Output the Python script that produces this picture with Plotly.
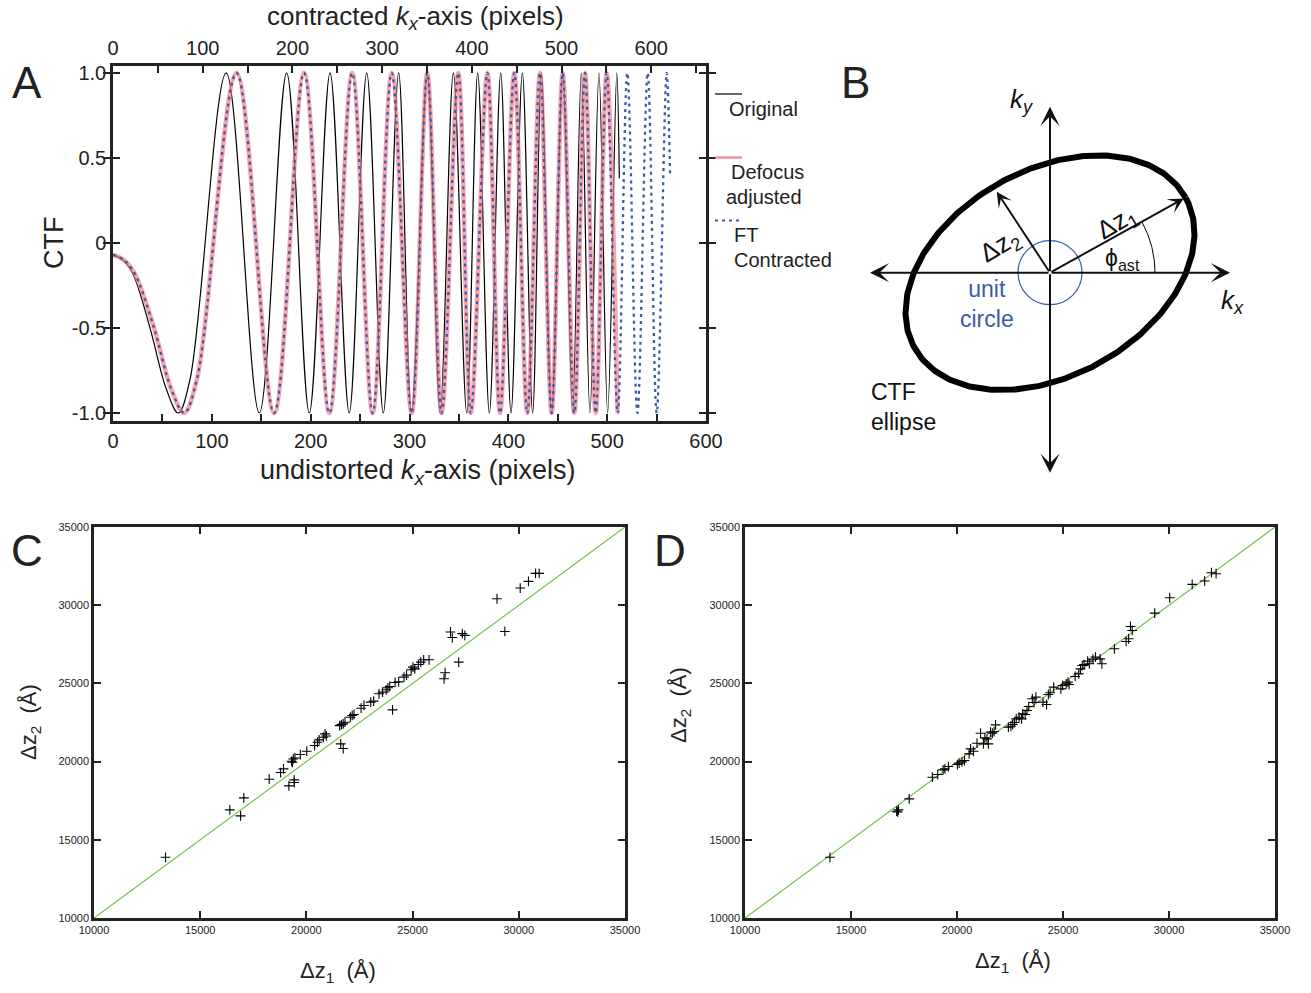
import numpy as np
import plotly.graph_objects as go

W, H = 1311, 993
FONT = "Liberation Sans, Arial, Helvetica, sans-serif"

# ---------------- Panel A data (extrema) ----------------
orig_x = [0, 10, 20, 37, 54, 66, 78, 114.5, 148, 175.7, 198.6, 219.6, 239, 256.7, 273.5, 289, 302,
          318, 331, 344.4, 357.9, 369, 380.8, 392.3, 402.7, 414.2, 424.6, 433.4, 443.8,
          455, 465, 473.8, 482.6, 491.7, 500.5, 509.7, 512.3]
orig_y = [-0.07, -0.10, -0.18, -0.49, -0.86, -1.0, -0.8, 1, -1, 1, -1, 1, -1, 1, -1, 1, -1,
          1, -1, 1, -1, 1, -1, 1, -1, 1, -1, 1, -1,
          1, -1, 1, -1, 1, -1, 1, 0.38]

adj_x = [0, 11, 22, 41, 59, 72, 85, 125, 163, 193.3, 218.9, 242, 262.7, 282, 302.2, 318, 332.5,
         349.4, 362, 378.8, 391.6, 406, 419.2, 432, 443.8, 455, 466.8, 477.6, 488.4,
         499.5, 510.6]
adj_y = [-0.07, -0.10, -0.18, -0.49, -0.86, -1.0, -0.8, 1, -1, 1, -1, 1, -1, 1, -1, 1, -1,
         1, -1, 1, -1, 1, -1, 1, -1, 1, -1, 1, -1,
         1, -1]

ft_x = adj_x + [520.4, 530.6, 541, 550.1, 560.2, 563.6]
ft_y = adj_y + [1, -1, 1, -1, 1, 0.41]

# ---------------- Panel C / D data ----------------
c_dz1 = [13367, 16397, 16902, 17054, 18249, 18788, 18923, 19175, 19428, 19428,
         19300, 19380, 19460, 19340, 19714, 20017, 20387, 20520, 20600, 20800,
         20880, 20940, 21566, 21650, 21734, 21818, 21616, 21734, 22070, 22155,
         22240, 22575, 22710, 23030, 23165, 23418, 23587, 23755, 23840, 23923,
         24057, 24175, 24343, 24596, 24714, 24933, 25017, 25101, 25270, 25387,
         25522, 25774, 26481, 26532, 26784, 26868, 27340, 27458, 27172, 28973,
         29343, 30067, 30455, 30790, 30959]
c_dz2 = [13882, 16911, 16527, 17679, 18874, 19300, 19535, 18447, 18831, 18660,
         20020, 20170, 20230, 19960, 20452, 20665, 21028, 21240, 21390, 21560,
         21770, 21640, 22300, 22370, 22410, 22520, 21134, 20836, 22840, 22950,
         23010, 23415, 23590, 23800, 23865, 24334, 24440, 24590, 24720, 24803,
         23310, 25060, 25100, 25400, 25530, 25870, 26040, 25930, 26210, 26360,
         26510, 26510, 25295, 25680, 28290, 27930, 28180, 28070, 26360, 30413,
         28323, 31096, 31523, 32034, 32034]

d_dz1 = [14007, 17155, 17240, 17200, 17744, 18838, 19091, 19343, 19430, 19596,
         20017, 20100, 20235, 20353, 20572, 20640, 20775, 20943, 21111, 21246,
         21313, 21414, 21481, 21582, 21666, 21750, 21818, 22424, 22542, 22626,
         22710, 22794, 22929, 23047, 23098, 23216, 23300, 23384, 23553, 23637,
         23720, 24057, 24225, 24309, 24393, 24562, 24900, 24984, 25152, 25236,
         25287, 25573, 25741, 25825, 25909, 25993, 26163, 26245, 26416, 26534,
         26750, 26835, 27424, 27980, 28097, 28182, 28266, 29326, 30033, 31094,
         31683, 32003, 32222]
d_dz2 = [13882, 16830, 16911, 16780, 17615, 19001, 19172, 19471, 19535, 19684,
         19812, 19900, 19980, 20068, 20494, 20814, 20660, 21177, 21817, 21134,
         21518, 21450, 21134, 21882, 21820, 21920, 22348, 22200, 22260, 22370,
         22500, 22734, 22840, 22734, 23050, 23010, 23270, 23521, 24014, 23780,
         24120, 23801, 23650, 24290, 24400, 24760, 24653, 24870, 24970, 25080,
         24930, 25443, 25610, 25930, 26140, 26200, 26425, 26255, 26550, 26680,
         26570, 26255, 27213, 27683, 27853, 28640, 28385, 29495, 30477, 31330,
         31543, 32077, 32013]

diag = [10000, 35000]

# ---------------- Panel B diagram parameters (pixels) ----------------
ell_a, ell_b, ell_ang = 155, 103, 29.0
arc_r = 105
unit_r = 32
dz1_len, dz1_ang = 153, 29.0
dz2_len, dz2_ang = 97, 123.3

fig = go.Figure()

# ---- Panel A traces ----
fig.add_trace(go.Scatter(x=orig_x, y=orig_y, mode="lines", line=dict(color="black", width=1.2, shape="spline"),
                         showlegend=False, hoverinfo="skip"))
fig.add_trace(go.Scatter(x=adj_x, y=adj_y, mode="lines",
                         line=dict(color="rgba(246,125,135,0.7)", width=4.5, shape="spline"),
                         showlegend=False, hoverinfo="skip"))
fig.add_trace(go.Scatter(x=ft_x, y=ft_y, mode="lines",
                         line=dict(color="#3a5aad", width=2.3, shape="spline", dash="3px,4px"),
                         showlegend=False, hoverinfo="skip"))
fig.add_trace(go.Scatter(x=[None], y=[None], xaxis="x2", yaxis="y", showlegend=False, hoverinfo="skip"))

# ---- Panel B traces ----
t = np.linspace(0, 2 * np.pi, 361)
th = np.deg2rad(ell_ang)
ex = ell_a * np.cos(t) * np.cos(th) - ell_b * np.sin(t) * np.sin(th)
ey = ell_a * np.cos(t) * np.sin(th) + ell_b * np.sin(t) * np.cos(th)
fig.add_trace(go.Scatter(x=ex, y=ey, mode="lines", line=dict(color="black", width=6),
                         xaxis="x3", yaxis="y3", showlegend=False, hoverinfo="skip"))
ta = np.linspace(0, np.deg2rad(dz1_ang), 60)
fig.add_trace(go.Scatter(x=arc_r * np.cos(ta), y=arc_r * np.sin(ta), mode="lines",
                         line=dict(color="black", width=1),
                         xaxis="x3", yaxis="y3", showlegend=False, hoverinfo="skip"))

# ---- Panel C / D traces ----
for xs, ys, xa, ya in [(c_dz1, c_dz2, "x4", "y4"), (d_dz1, d_dz2, "x5", "y5")]:
    fig.add_trace(go.Scatter(x=diag, y=diag, mode="lines", line=dict(color="#76c04e", width=1.2),
                             xaxis=xa, yaxis=ya, showlegend=False, hoverinfo="skip"))
    fig.add_trace(go.Scatter(x=xs, y=ys, mode="markers",
                             marker=dict(symbol="cross-thin", size=7, line=dict(color="black", width=1.1)),
                             xaxis=xa, yaxis=ya, showlegend=False, hoverinfo="skip"))


def px(xp):
    return xp / W


def py(yp):
    return 1 - yp / H


axcol = "#222222"
common_A = dict(showgrid=False, zeroline=False, showline=True, linecolor=axcol, linewidth=2.5,
                ticks="inside", ticklen=7, tickwidth=2, tickcolor=axcol, automargin=False,
                tickfont=dict(family=FONT, size=20, color="#222"))

layout = dict(
    width=W, height=H, margin=dict(l=0, r=0, t=0, b=0, pad=0, autoexpand=False),
    paper_bgcolor="white", plot_bgcolor="white",
    font=dict(family=FONT, color="#222"),
    xaxis=dict(domain=[px(113), px(706)], range=[0, 600], dtick=100, anchor="y",
               minor=dict(dtick=50, ticks="inside", ticklen=7, tickwidth=2, tickcolor=axcol),
               **common_A),
    xaxis2=dict(domain=[px(113), px(706)], range=[0, 661], dtick=100, overlaying="x", side="top", anchor="y",
                minor=dict(dtick=50, ticks="inside", ticklen=7, tickwidth=2, tickcolor=axcol),
                **common_A),
    yaxis=dict(domain=[py(421), py(66)], range=[-1.047, 1.041], anchor="x",
               tickvals=[-1, -0.5, 0, 0.5, 1], ticktext=["-1.0", "-0.5", "0", "0.5", "1.0"],
               mirror="allticks", **common_A),
    xaxis3=dict(domain=[px(840), px(1290)], range=[-210, 240], visible=False, anchor="y3", automargin=False),
    yaxis3=dict(domain=[py(490), py(60)], range=[-217.3, 212.7], visible=False, anchor="x3", automargin=False),
)

common_CD = dict(showgrid=False, zeroline=False, showline=True, linecolor=axcol, linewidth=2.5,
                 ticks="inside", ticklen=7, tickwidth=1.5, tickcolor=axcol, mirror="allticks",
                 range=[10000, 35000], dtick=5000, tickformat="d", automargin=False,
                 tickfont=dict(family=FONT, size=11, color="#222"))
layout["xaxis4"] = dict(domain=[px(94), px(625)], anchor="y4", **common_CD)
layout["yaxis4"] = dict(domain=[py(918), py(527)], anchor="x4", **common_CD)
layout["xaxis5"] = dict(domain=[px(745), px(1275)], anchor="y5", **common_CD)
layout["yaxis5"] = dict(domain=[py(918), py(527)], anchor="x5", **common_CD)

fig.update_layout(**layout)

ann = []


def ptext(x, y, text, size, **kw):
    d = dict(x=px(x), y=py(y), xref="paper", yref="paper", text=text, showarrow=False,
             xanchor="center", yanchor="middle",
             font=dict(family=FONT, size=size, color=kw.pop("color", "#222")))
    d.update(kw)
    ann.append(d)


# panel letters
for lx, ly, l in [(27, 82, "A"), (855, 82, "B"), (27, 550, "C"), (670, 550, "D")]:
    ptext(lx, ly, l, 44)

# panel A titles
ptext(415, 17, "contracted <i>k<sub>x</sub></i>-axis (pixels)", 26)
ptext(418, 472, "undistorted <i>k<sub>x</sub></i>-axis (pixels)", 27)
ptext(54, 243, "CTF", 27, textangle=-90)

# panel A legend text
ptext(727, 109, "Original", 20, xanchor="left")
ptext(729, 172, "Defocus", 20, xanchor="left")
ptext(724, 197, "adjusted", 20, xanchor="left")
ptext(732, 235, "FT", 20, xanchor="left")
ptext(732, 260, "Contracted", 20, xanchor="left")

# panel C / D axis titles
ptext(338, 972, "Δz<sub>1</sub>  (Å)", 22)
ptext(30, 722, "Δz<sub>2</sub>  (Å)", 22, textangle=-90)
ptext(1013, 962, "Δz<sub>1</sub>  (Å)", 22)
ptext(680, 705, "Δz<sub>2</sub>  (Å)", 22, textangle=-90)


# panel B arrows
def arrow(x0, y0, x1, y1, size, width=2):
    ann.append(dict(x=x1, y=y1, ax=x0, ay=y0, xref="x3", yref="y3", axref="x3", ayref="y3",
                    text="", showarrow=True, arrowhead=3, arrowsize=size, arrowwidth=width,
                    arrowcolor="#111", standoff=0, startstandoff=0))


arrow(0, 0, 180, 0, 1.6)
arrow(0, 0, -180, 0, 1.6)
arrow(0, 0, 0, 166, 1.6)
arrow(0, 0, 0, -200, 1.6)
r1 = np.deg2rad(dz1_ang)
r2 = np.deg2rad(dz2_ang)
arrow(0, 0, dz1_len * np.cos(r1), dz1_len * np.sin(r1), 1.3)
arrow(0, 0, dz2_len * np.cos(r2), dz2_len * np.sin(r2), 1.3)


def btext(x, y, text, size, **kw):
    d = dict(x=x, y=y, xref="x3", yref="y3", text=text, showarrow=False,
             xanchor="center", yanchor="middle",
             font=dict(family=FONT, size=size, color=kw.pop("color", "#111")))
    d.update(kw)
    ann.append(d)


btext(-28, 172, "<i>k<sub>y</sub></i>", 26)
btext(182, -29, "<i>k<sub>x</sub></i>", 26)
btext(67, 49, "Δz<sub>1</sub>", 26, textangle=-31)
btext(-50, 26, "Δz<sub>2</sub>", 26, textangle=-31)
btext(72, 13, "ϕ<sub>ast</sub>", 23)
btext(-63, -31, "unit<br>circle", 23, color="#3a5aad")
btext(-181, -134, "CTF<br>ellipse", 23, xanchor="left", align="left")

fig.update_layout(annotations=ann)

shapes = [
    dict(type="circle", xref="x3", yref="y3", x0=-unit_r, x1=unit_r, y0=-unit_r, y1=unit_r,
         line=dict(color="#3a5aad", width=1.2)),
    dict(type="line", xref="paper", yref="paper", x0=px(715), x1=px(742), y0=py(94), y1=py(94),
         line=dict(color="black", width=1.2)),
    dict(type="line", xref="paper", yref="paper", x0=px(715), x1=px(742), y0=py(157.5), y1=py(157.5),
         line=dict(color="rgba(246,125,135,0.85)", width=2.5)),
    dict(type="line", xref="paper", yref="paper", x0=px(715), x1=px(742), y0=py(220.5), y1=py(220.5),
         line=dict(color="#3a5aad", width=2.2, dash="3px,4px")),
]
fig.update_layout(shapes=shapes)

fig.write_html("out.html", config={"displayModeBar": False},
               post_script="document.body.style.margin='0px';")
